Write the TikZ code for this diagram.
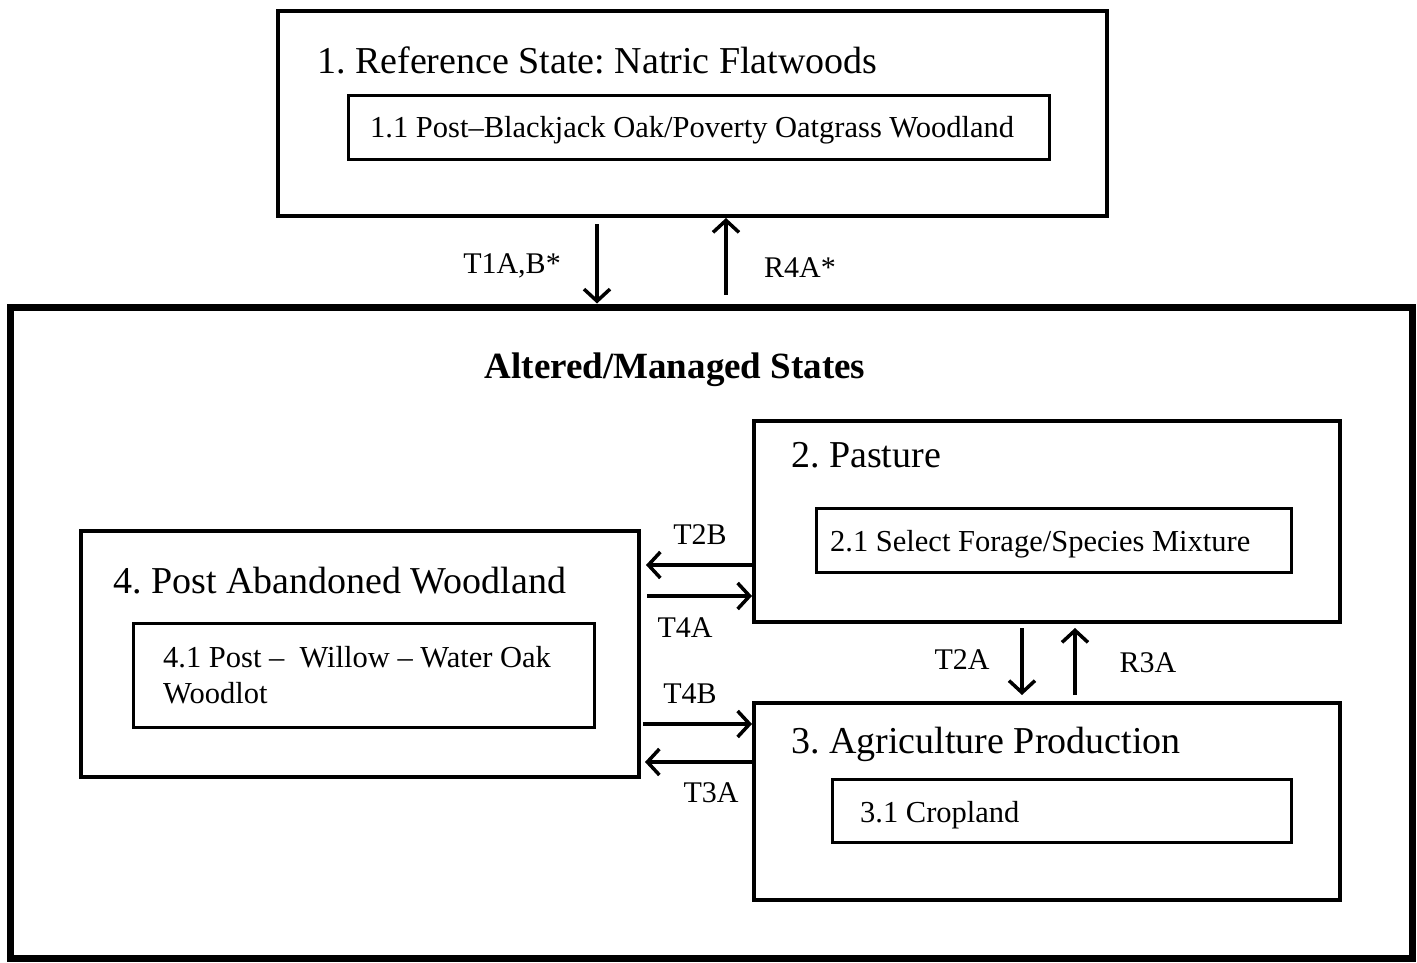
\documentclass[tikz,border=0pt]{standalone}
\usepackage{fontspec}
\setmainfont{Liberation Serif}
\usetikzlibrary{arrows.meta}
\frenchspacing
\begin{document}
\begin{tikzpicture}[x=1pt,y=-1pt,
  box/.style={draw, line width=4pt, inner sep=0pt},
  bigbox/.style={draw, line width=7pt, inner sep=0pt},
  subbox/.style={draw, line width=3pt, inner sep=0pt},
  titletext/.style={anchor=base west, inner sep=0pt, font=\fontsize{38}{44}\selectfont},
  subtext/.style={anchor=base west, inner sep=0pt, font=\fontsize{30.5}{36}\selectfont},
  lbl/.style={inner sep=0pt, font=\fontsize{30}{36}\selectfont},
  arr/.style={line width=3.5pt, -{Straight Barb[length=12pt,width=26pt,line width=3.5pt]}}
]
\useasboundingbox (0,0) rectangle (1417,963);

% boxes
\node[box, minimum width=829pt, minimum height=205pt] (ref) at (692.5,113.5) {};
\node[subbox, minimum width=701pt, minimum height=64pt] (ref1) at (698.5,128) {};
\node[bigbox, minimum width=1402pt, minimum height=651pt] (big) at (711,632.5) {};
\node[box, minimum width=586pt, minimum height=201pt] (past) at (1047,521.5) {};
\node[subbox, minimum width=475pt, minimum height=64pt] (past1) at (1053.5,540) {};
\node[box, minimum width=586pt, minimum height=197pt] (agri) at (1047,801.5) {};
\node[subbox, minimum width=459pt, minimum height=63pt] (agri1) at (1061.5,810.5) {};
\node[box, minimum width=558pt, minimum height=246pt] (wood) at (360,654) {};
\node[subbox, minimum width=461pt, minimum height=104pt] (wood1) at (363.5,675) {};

% texts
\node[titletext] (tref) at (317,74) {1. Reference State: Natric Flatwoods};
\node[subtext] (tref1) at (370,138) {1.1 Post–Blackjack Oak/Poverty Oatgrass Woodland};
\node[titletext, font=\fontsize{37}{44}\selectfont\bfseries, anchor=base] (talt) at (675,378) {Altered/Managed States};
\node[titletext] (tpast) at (791,467) {2. Pasture};
\node[subtext] (tpast1) at (830,551) {2.1 Select Forage/Species Mixture};
\node[titletext] (tagri) at (791,753) {3. Agriculture Production};
\node[subtext] (tagri1) at (860,822) {3.1 Cropland};
\node[titletext] (twood) at (113,593) {4. Post Abandoned Woodland};
\node[subtext] (twood1) at (163,667) {4.1 Post –\ \ Willow – Water Oak};
\node[subtext] (twood2) at (163,703) {Woodlot};

% connector x/y positions
\coordinate (cx1) at (597,0);
\coordinate (cx2) at (726,0);
\coordinate (cx3) at (1022,0);
\coordinate (cx4) at (1075,0);
\coordinate (cy1) at (0,565);
\coordinate (cy2) at (0,596);
\coordinate (cy3) at (0,724);
\coordinate (cy4) at (0,762);

% vertical arrows
\draw[arr, shorten <=6pt] (ref.south -| cx1) -- (big.north -| cx1);
\draw[arr, shorten <=9pt] (big.north -| cx2) -- (ref.south -| cx2);
\draw[arr, shorten <=4pt, shorten >=6pt] (past.south -| cx3) -- (agri.north -| cx3);
\draw[arr, shorten <=6pt, shorten >=4pt] (agri.north -| cx4) -- (past.south -| cx4);

% horizontal arrows
\draw[arr, shorten >=5pt] (past.west |- cy1) -- (wood.east |- cy1);
\draw[arr, shorten <=6pt] (wood.east |- cy2) -- (past.west |- cy2);
\draw[arr, shorten <=2pt] (wood.east |- cy3) -- (agri.west |- cy3);
\draw[arr, shorten >=4pt] (agri.west |- cy4) -- (wood.east |- cy4);

% labels
\node[lbl] (l1) at (512,266) {T1A,B*};
\node[lbl] (l2) at (800,268) {R4A*};
\node[lbl] (l3) at (700,535) {T2B};
\node[lbl] (l4) at (685,628) {T4A};
\node[lbl] (l5) at (690,694) {T4B};
\node[lbl] (l6) at (711,793) {T3A};
\node[lbl] (l7) at (962,660) {T2A};
\node[lbl] (l8) at (1148,663) {R3A};
\end{tikzpicture}
\end{document}
